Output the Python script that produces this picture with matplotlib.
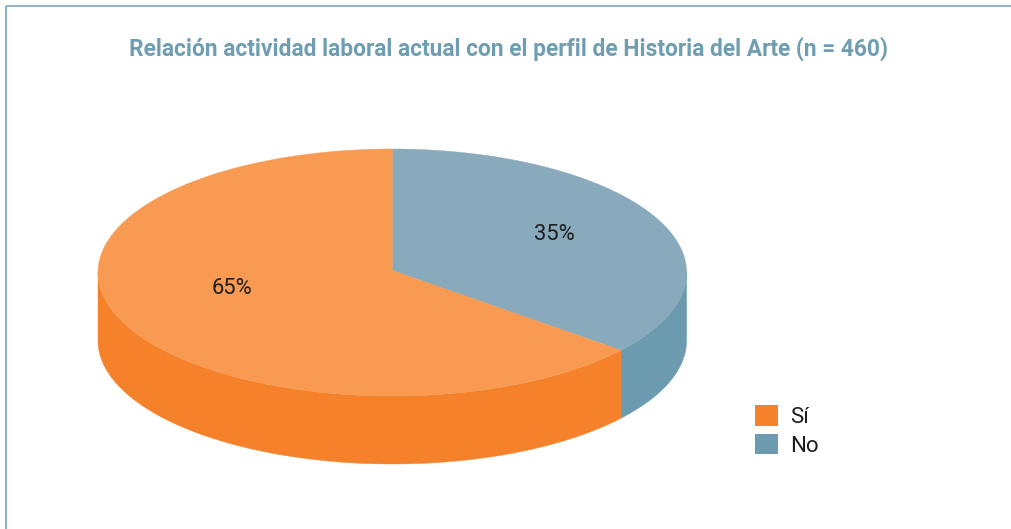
import numpy as np
import matplotlib
matplotlib.use("Agg")
import matplotlib.pyplot as plt
from matplotlib.patches import Patch, Polygon

title = "Relación actividad laboral actual con el perfil de Historia del Arte (n = 460)"
categories = ["Sí", "No"]
values = [65, 35]
value_labels = ["65%", "35%"]
top_colors = ["#F89A52", "#89AABC"]
side_colors = ["#F5822A", "#6C9AAE"]

W, H = 1011, 529
CX, CY, RX, RY, DEPTH = 392.3, 272.5, 294.3, 123.5, 68
APEX_Y = 270.5
WARP = -3.2  # perspective foreshortening of the tilted disc, degrees

fig = plt.figure(figsize=(W / 100, H / 100), dpi=100, facecolor="white")
ax = fig.add_axes([0, 0, 1, 1])
ax.set_xlim(0, W)
ax.set_ylim(H, 0)
ax.axis("off")


def warp(t):
    return t + np.radians(WARP) * np.sin(2 * t)


def rim(t, dy=0):
    return CX + RX * np.sin(t), CY + RY * -np.cos(t) + dy


# boundaries: clockwise from 12 o'clock, "No" first
order = [1, 0]
total = sum(values)
start = 0.0
spans = {}
for i in order:
    sweep = 2 * np.pi * values[i] / total
    spans[i] = (start, start + sweep)
    start += sweep

# sides (only the front half of the rim is visible)
for i in order:
    a, b = warp(spans[i][0]), warp(spans[i][1])
    lo, hi = max(a, np.pi / 2), min(b, 3 * np.pi / 2)
    if hi > lo:
        t = np.linspace(lo, hi, 200)
        x1, y1 = rim(t)
        x2, y2 = rim(t[::-1], DEPTH)
        ax.add_patch(Polygon(np.c_[np.r_[x1, x2], np.r_[y1, y2]],
                             closed=True, fc=side_colors[i], ec=side_colors[i], lw=0.3))

# top faces
for i in order:
    t = np.linspace(warp(spans[i][0]), warp(spans[i][1]), 400)
    x, y = rim(t)
    ax.add_patch(Polygon(np.c_[np.r_[CX, x], np.r_[APEX_Y, y]],
                         closed=True, fc=top_colors[i], ec=top_colors[i], lw=0.3))

# value labels
label_pos = {0: (232, 289), 1: (554, 234)}
for i, s in enumerate(value_labels):
    ax.text(*label_pos[i], s, ha="center", va="center", fontsize=15.8,
            family="Roboto", color="#1E1E1E")

ax.text(508.5, 49, title, ha="center", va="center", fontsize=16.4,
        family="Roboto", weight="bold", color="#6F9DB2")

# frame
ax.plot([6, 6], [H, 5.5], color="#84AEC4", lw=1.4, solid_capstyle="butt")
ax.plot([5.5, W], [5.5, 5.5], color="#8FB2C6", lw=1.4, solid_capstyle="butt")

handles = [Patch(fc=side_colors[i], ec="none") for i in range(2)]
ax.legend(handles, categories, loc="upper left", bbox_to_anchor=(748 / W, 1 - 398.5 / H),
          frameon=False, prop={"family": "Roboto", "size": 16}, handlelength=1.04,
          handleheight=1.04, labelspacing=0.27, handletextpad=0.55, borderpad=0.3,
          borderaxespad=0, labelcolor="#1E1E1E")

fig.savefig("out.png", dpi=100)
